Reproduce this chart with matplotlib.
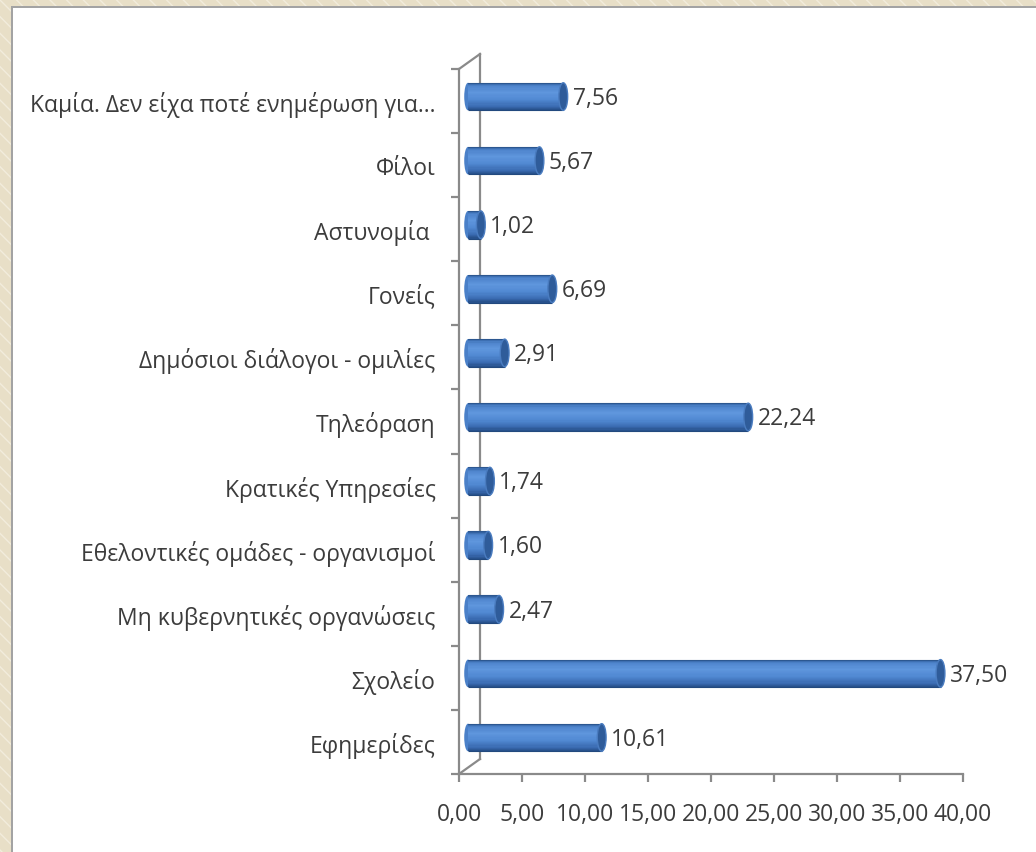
import numpy as np
import matplotlib.pyplot as plt
import matplotlib.transforms as mtransforms
from matplotlib.patches import Rectangle, Ellipse
from matplotlib.colors import LinearSegmentedColormap

plt.rcParams['font.family'] = ['Open Sans', 'DejaVu Sans']

# data, bottom to top
categories = ['Εφημερίδες', 'Σχολείο', 'Μη κυβερνητικές οργανώσεις',
              'Εθελοντικές ομάδες - οργανισμοί', 'Κρατικές Υπηρεσίες',
              'Τηλεόραση', 'Δημόσιοι διάλογοι - ομιλίες', 'Γονείς',
              'Αστυνομία ', 'Φίλοι', 'Καμία. Δεν είχα ποτέ ενημέρωση για...']
values = [10.61, 37.50, 2.47, 1.60, 1.74, 22.24, 2.91, 6.69, 1.02, 5.67, 7.56]
x_ticks = [0, 5, 10, 15, 20, 25, 30, 35, 40]

W, H = 1036, 853
fig = plt.figure(figsize=(W / 100, H / 100), dpi=100)
fig.patch.set_facecolor('white')

# beige frame on left / top with a grey shadow line
fig.patches.append(Rectangle((0, 0), 11 / W, 1, transform=fig.transFigure,
                             facecolor='#e8dfc7', edgecolor='#f2ecdc', hatch='\\\\', lw=0))
fig.patches.append(Rectangle((0, 1 - 7 / H), 1, 7 / H, transform=fig.transFigure,
                             facecolor='#e8dfc7', edgecolor='#f2ecdc', hatch='\\\\', lw=0))
fig.patches.append(Rectangle((11 / W, 0), 2 / W, 1 - 7 / H, transform=fig.transFigure,
                             facecolor='#a3a3a3', lw=0))
fig.patches.append(Rectangle((11 / W, 1 - 9 / H), 1, 2 / H, transform=fig.transFigure,
                             facecolor='#a3a3a3', lw=0))

ax = fig.add_axes([459 / W, 78 / H, 504 / W, 705 / H])
ax.set_xlim(0, 40)
ax.set_ylim(-0.5, len(categories) - 0.5)
ax.set_facecolor('none')

axis_col = '#8a8a8a'
text_col = '#3c3c3c'
fs = 16.5
for s in ['top', 'right']:
    ax.spines[s].set_visible(False)
for s in ['left', 'bottom']:
    ax.spines[s].set_color(axis_col)
    ax.spines[s].set_linewidth(1.6)

pos = np.arange(len(categories))
ax.set_yticks(np.arange(len(categories) + 1) - 0.5)
ax.set_yticklabels([])
ax.set_yticks(pos, minor=True)
ax.set_yticklabels(categories, minor=True, fontsize=fs, color=text_col)
ax.tick_params(axis='y', which='major', length=6, width=1.6, color=axis_col)
ax.tick_params(axis='y', which='minor', length=0, pad=17)

ax.set_xticks(x_ticks)
ax.xaxis.set_major_formatter(plt.FuncFormatter(lambda v, p: ('%.2f' % v).replace('.', ',')))
ax.tick_params(axis='x', length=6, width=1.6, color=axis_col, pad=14, labelsize=fs,
               labelcolor=text_col)

# left wall of the 3d frame
wx = 21 / 504
wy = 15 / 705
ax.plot([wx, wx], [wy, 1 + wy], color=axis_col, lw=1.6, transform=ax.transAxes, clip_on=False)
ax.plot([0, wx], [0, wy], color=axis_col, lw=1.6, transform=ax.transAxes, clip_on=False)
ax.plot([0, wx], [1, 1 + wy], color=axis_col, lw=1.6, transform=ax.transAxes, clip_on=False)

# cylinders, drawn at the middle depth of the 3d box
depth = mtransforms.ScaledTranslation(9 / 100, 4.5 / 100, fig.dpi_scale_trans)
tr = ax.transData + depth
bar_h = 0.43
n = 24
cmap = LinearSegmentedColormap.from_list('cyl', [
    (0.0, '#2f5d9a'), (0.12, '#4e84cc'), (0.35, '#5f96dd'),
    (0.6, '#5189d3'), (0.85, '#3b6cb2'), (1.0, '#254e88')])

# rounded far end
for i, v in zip(pos, values):
    ax.add_patch(Ellipse((0, i), 0.6, bar_h, transform=tr, facecolor='#4a80c8',
                         edgecolor='none', zorder=2.5))

for k in range(n):
    frac = (k + 0.5) / n
    yk = pos + bar_h / 2 - (k + 0.5) * bar_h / n
    ax.barh(yk, values, height=bar_h / n * 1.05, color=cmap(frac), lw=0,
            transform=tr, zorder=3)

ax.hlines(pos + bar_h / 2, 0, values, colors='#2c5790', lw=0.8, transform=tr, zorder=4)
ax.hlines(pos - bar_h / 2, 0, values, colors='#22497e', lw=0.8, transform=tr, zorder=4)

for i, v in zip(pos, values):
    ax.add_patch(Ellipse((v, i), 0.7, bar_h, transform=tr, facecolor='#2f5c9a',
                         edgecolor='#4a7cc0', lw=1.0, zorder=5))
    ax.text(v + 0.75, i - 0.02, ('%.2f' % v).replace('.', ','), transform=tr,
            ha='left', va='center', fontsize=fs, color=text_col, zorder=6)

fig.savefig('out.png', dpi=100)
